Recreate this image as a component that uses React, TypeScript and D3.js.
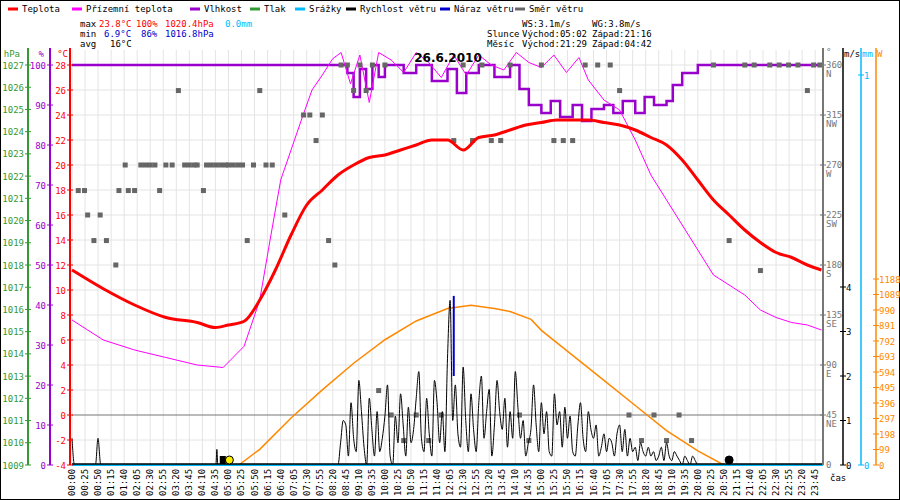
import { useEffect, useRef } from 'react';
import * as d3 from 'd3';

// hours of day for the smooth series
const tempTimes = [0, 1, 2, 3, 4, 4.58, 5, 5.5, 6, 6.5, 7, 7.5, 8, 8.5, 9, 9.5, 10, 10.5, 11, 11.5, 12, 12.5, 13, 13.5, 14, 14.5, 15, 15.5, 16, 16.5, 17, 17.5, 18, 18.5, 19, 19.5, 20, 20.5, 21, 21.5, 22, 22.5, 23, 23.5, 23.95];
const temperature = [11.6, 10.1, 8.8, 7.8, 7.4, 7.0, 7.2, 7.5, 9.2, 11.6, 14.4, 16.8, 18.0, 19.2, 20.0, 20.6, 20.8, 21.2, 21.6, 22.0, 22.0, 21.2, 22.2, 22.4, 22.8, 23.2, 23.4, 23.6, 23.6, 23.6, 23.4, 23.2, 22.8, 22.2, 21.6, 20.4, 18.8, 17.2, 16.0, 14.8, 13.8, 13.0, 12.6, 12.0, 11.6];

const feelTimes = [0, 1, 2, 3, 4, 4.83, 5.5, 6, 6.33, 6.67, 7, 7.33, 7.67, 8, 8.33, 8.6, 8.9, 9.2, 9.5, 9.8, 10.2, 10.6, 11, 11.4, 11.8, 12.2, 12.6, 13, 13.4, 13.8, 14.2, 14.6, 15, 15.4, 15.8, 16.2, 16.5, 17, 17.5, 18, 18.5, 19, 19.5, 20, 20.5, 21, 21.5, 22, 22.5, 23, 23.5, 23.95];
const feelsLike = [7.6, 6.0, 5.2, 4.6, 4.0, 3.8, 5.5, 9.2, 14, 18.8, 21.2, 23.6, 26, 27.2, 28.5, 29, 26.5, 28.8, 25, 29, 28.4, 27.4, 29, 28.2, 27, 28.8, 27.2, 28.8, 28, 27.6, 29, 28.2, 27.8, 28.8, 27.4, 28.6, 26.8, 25.2, 24.4, 22, 19.2, 17.2, 15.2, 13.2, 11.2, 10.4, 9.6, 8.4, 7.8, 7.4, 7.2, 6.8];

const humTimes = [0, 8.6, 8.8, 9.0, 9.2, 9.4, 9.6, 9.8, 10.0, 10.3, 10.6, 11, 11.5, 12, 12.3, 12.6, 13, 13.5, 14, 14.3, 14.6, 15, 15.3, 15.6, 16, 16.3, 16.6, 17, 17.3, 17.6, 18, 18.3, 18.6, 19, 19.2, 19.5, 20, 24];
const humidity = [100, 100, 98, 92, 99, 94, 100, 97, 100, 100, 98, 100, 96, 99, 93, 98, 100, 97, 100, 94, 90, 88, 91, 87, 90, 86, 89, 90, 88, 91, 88, 92, 90, 91, 95, 98, 100, 100];

const solarTimes = [0, 5.33, 6, 7, 8, 9, 10, 11, 12, 12.75, 13.5, 14, 14.67, 15, 16, 17, 18, 19, 20, 20.83, 24];
const solar = [0, 0, 100, 300, 480, 650, 800, 920, 1000, 1020, 1000, 980, 930, 860, 700, 540, 380, 220, 90, 0, 0];

// wind speed every 5 min from 08:30 to 20:20, m/s
const windStart = 8.5;
const windSpeed = [0, 0.5, 1.0, 0.9, 0.2, 1.4, 0.6, 0.3, 1.9, 1.2, 0.4, 0, 1.5, 0.8, 0.2, 1.2, 0.3, 0.6, 1.1, 1.8, 0.2, 0, 1.1, 0.5, 1.6, 0.9, 0.2, 1.3, 0.5, 0.8, 1.5, 2.1, 0.6, 0.3, 1.5, 0.7, 0.2, 1.9, 1.4, 0.5, 1.2, 0.3, 2.4, 3.7, 1.0, 1.8, 0.7, 0.4, 2.2, 1.0, 0.3, 1.6, 0.8, 0.3, 1.4, 2.0, 0.6, 1.2, 1.7, 0.2, 0.9, 1.9, 1.2, 0.8, 1.5, 0.4, 1.2, 0.6, 2.1, 1.3, 0.6, 1.0, 0.2, 0.5, 0.8, 1.8, 0.9, 0.3, 1.4, 0.7, 1.2, 0.3, 0.2, 1.6, 0.9, 1.2, 0.4, 1.3, 0.6, 1.1, 0.3, 0.2, 0.9, 1.4, 0.6, 0.3, 1.2, 0.8, 0.6, 0.9, 0.2, 0.4, 0.7, 0.3, 0.6, 0.5, 0.2, 0.7, 0.9, 0.3, 0.8, 0.2, 0.6, 0.3, 0.4, 0.1, 0.5, 0.3, 0.2, 0.4, 0.2, 0.3, 0.1, 0.2, 0.4, 0.1, 0.5, 0.2, 0.1, 0.3, 0.2, 0.1, 0, 0.2, 0.1, 0, 0.2, 0.1, 0];
const earlyWind = [[0, 0.6], [0.08, 0], [0.75, 0], [0.83, 0.6], [0.92, 0], [4.6, 0], [4.63, 0.35], [4.66, 0]];
const gustTime = 12.2;
const gustMax = 3.8;

// wind direction samples [hour, degrees]
const dirSamples = [[0.2, 247], [0.4, 247], [0.5, 225], [0.7, 202], [0.9, 225], [1.1, 202], [1.4, 180], [1.5, 247], [1.7, 270], [1.8, 247], [2.0, 247], [2.2, 270], [2.35, 270], [2.5, 270], [2.65, 270], [2.8, 247], [3.0, 270], [3.2, 270], [3.4, 337], [3.6, 270], [3.75, 270], [3.9, 270], [4.0, 270], [4.2, 247], [4.3, 270], [4.45, 270], [4.6, 270], [4.75, 270], [4.9, 270], [5.0, 270], [5.15, 270], [5.3, 270], [5.45, 270], [5.6, 202], [5.8, 270], [6.0, 337], [6.2, 270], [6.4, 270], [6.8, 225], [7.4, 315], [7.6, 315], [7.8, 292], [8.0, 315], [8.2, 202], [8.4, 180], [8.6, 360], [8.8, 360], [9.0, 337], [9.2, 360], [9.4, 337], [9.6, 360], [9.8, 67], [10.0, 360], [10.2, 45], [10.6, 22], [11.0, 45], [11.4, 22], [11.8, 45], [12.2, 292], [12.5, 360], [12.8, 292], [13.1, 360], [13.4, 292], [13.7, 292], [14.0, 360], [14.3, 45], [14.6, 22], [15.0, 360], [15.4, 292], [15.7, 292], [16.0, 292], [16.4, 360], [16.8, 360], [17.2, 360], [17.5, 337], [17.8, 45], [18.2, 22], [18.6, 45], [19.0, 22], [19.4, 45], [19.8, 22], [20.5, 360], [21.0, 202], [21.5, 360], [21.8, 360], [22.0, 175], [22.3, 360], [22.6, 360], [22.9, 360], [23.2, 360], [23.5, 337], [23.7, 360], [23.9, 360]];

const hpaTicks = d3.range(1009, 1028);
const humTicks = d3.range(0, 101, 10);
const tempTicks = d3.range(-4, 29, 2);
const dirTicks = [[45, 'NE'], [90, 'E'], [135, 'SE'], [180, 'S'], [225, 'SW'], [270, 'W'], [315, 'NW'], [360, 'N']];
const wsTicks = [0, 1, 2, 3, 4];
const wTicks = d3.range(0, 1189, 99);

const legend = [['Teplota', '#ff0000'], ['Přízemní teplota', '#ff00ff'], ['Vlhkost', '#9900cc'], ['Tlak', '#339933'], ['Srážky', '#00bbff'], ['Rychlost větru', '#000000'], ['Náraz větru', '#0000cc'], ['Směr větru', '#666666']];

export default function App() {
  const ref = useRef<SVGSVGElement>(null);

  useEffect(() => {
    const svg = d3.select(ref.current);
    svg.selectAll('*').remove();
    const W = 900, H = 500;
    const x0 = 72, x1 = 823, top = 65, bot = 465;
    const font = 'DejaVu Sans Mono, monospace';
    const fs = 9;

    const x = d3.scaleLinear().domain([0, 24]).range([x0, x1]);
    const yT = d3.scaleLinear().domain([-4, 28]).range([bot, top]);
    const yH = d3.scaleLinear().domain([0, 100]).range([bot, top]);
    const yP = d3.scaleLinear().domain([1009, 1027]).range([bot, top]);
    const yD = d3.scaleLinear().domain([0, 360]).range([bot, top]);
    const yS = d3.scaleLinear().domain([0, 4]).range([bot, 287]);
    const yW = d3.scaleLinear().domain([0, 1188]).range([bot, 279]);

    svg.append('rect').attr('x', 0.5).attr('y', 0.5).attr('width', W - 1).attr('height', H - 1)
      .attr('fill', '#fff').attr('stroke', '#000');

    // grid
    const grid = svg.append('g');
    d3.range(0, 1440, 25).forEach(m => {
      grid.append('line').attr('x1', x(m / 60)).attr('x2', x(m / 60)).attr('y1', 50).attr('y2', bot)
        .attr('stroke', '#e4e4e4');
    });
    tempTicks.forEach(t => {
      grid.append('line').attr('x1', x0).attr('x2', x1).attr('y1', yT(t)).attr('y2', yT(t))
        .attr('stroke', t === 0 ? '#777' : '#e4e4e4');
    });

    // solar
    svg.append('path').datum(solarTimes.map((t, i) => [t, solar[i]] as [number, number]))
      .attr('fill', 'none').attr('stroke', '#ff8800').attr('stroke-width', 1.5)
      .attr('d', d3.line<[number, number]>().x(d => x(d[0])).y(d => yW(d[1])));

    // humidity
    svg.append('path').datum(humTimes.map((t, i) => [t, humidity[i]] as [number, number]))
      .attr('fill', 'none').attr('stroke', '#9900cc').attr('stroke-width', 2.5)
      .attr('d', d3.line<[number, number]>().x(d => x(d[0])).y(d => yH(d[1])).curve(d3.curveStepAfter));

    // feels like
    svg.append('path').datum(feelTimes.map((t, i) => [t, feelsLike[i]] as [number, number]))
      .attr('fill', 'none').attr('stroke', '#ff00ff').attr('stroke-width', 1)
      .attr('d', d3.line<[number, number]>().x(d => x(d[0])).y(d => yT(d[1])));

    // wind direction
    svg.append('g').selectAll('rect').data(dirSamples).enter().append('rect')
      .attr('x', d => x(d[0]) - 2.5).attr('y', d => yD(d[1]) - 2.5).attr('width', 5).attr('height', 5)
      .attr('fill', '#666');

    // temperature
    svg.append('path').datum(tempTimes.map((t, i) => [t, temperature[i]] as [number, number]))
      .attr('fill', 'none').attr('stroke', '#ff0000').attr('stroke-width', 3)
      .attr('d', d3.line<[number, number]>().x(d => x(d[0])).y(d => yT(d[1])).curve(d3.curveMonotoneX));

    // wind speed
    const ws: [number, number][] = [...earlyWind.map(d => [d[0], d[1]] as [number, number]), [windStart - 0.1, 0],
      ...windSpeed.map((v, i) => [windStart + i / 12, v] as [number, number]), [24, 0]];
    svg.append('path').datum(ws).attr('fill', 'none').attr('stroke', '#000').attr('stroke-width', 1)
      .attr('d', d3.line<[number, number]>().x(d => x(d[0])).y(d => yS(d[1])).curve(d3.curveMonotoneX));
    svg.append('line').attr('x1', x(gustTime)).attr('x2', x(gustTime)).attr('y1', yS(gustMax)).attr('y2', yS(2))
      .attr('stroke', '#0000cc').attr('stroke-width', 2);
    svg.append('line').attr('x1', x0).attr('x2', x1).attr('y1', bot).attr('y2', bot).attr('stroke', '#00bbff').attr('stroke-width', 2);
    svg.append('line').attr('x1', x0).attr('x2', x1).attr('y1', bot - 1).attr('y2', bot - 1).attr('stroke', '#000').attr('stroke-width', 1.5);

    // sun / moon
    svg.append('circle').attr('cx', x(5.03)).attr('cy', bot - 5).attr('r', 4).attr('fill', '#ffee00').attr('stroke', '#000');
    svg.append('rect').attr('x', x(4.85) - 4).attr('y', bot - 9).attr('width', 6).attr('height', 8).attr('fill', '#000');
    svg.append('circle').attr('cx', x(21.0)).attr('cy', bot - 5).attr('r', 4).attr('fill', '#000').attr('stroke', '#000');

    // left axes
    const axisG = (xx: number, color: string, scale: d3.ScaleLinear<number, number>, ticks: number[]) => {
      const g = svg.append('g').attr('font-family', font).attr('font-size', fs).attr('fill', color);
      g.append('line').attr('x1', xx).attr('x2', xx).attr('y1', 48).attr('y2', bot).attr('stroke', color).attr('stroke-width', 2);
      ticks.forEach(t => {
        g.append('line').attr('x1', xx - 3).attr('x2', xx + 3).attr('y1', scale(t)).attr('y2', scale(t)).attr('stroke', color);
        g.append('text').attr('x', xx - 4).attr('y', scale(t) + 3.5).attr('text-anchor', 'end').text(String(t));
      });
      return g;
    };
    axisG(28, '#339933', yP, hpaTicks).append('text').attr('x', 20).attr('y', 57).attr('text-anchor', 'end').text('hPa');
    axisG(50, '#9900cc', yH, humTicks).append('text').attr('x', 44).attr('y', 57).attr('text-anchor', 'end').text('%');
    axisG(70, '#ff0000', yT, tempTicks).append('text').attr('x', 68).attr('y', 57).attr('text-anchor', 'end').text('°C');

    // right axes
    const rg = svg.append('g').attr('font-family', font).attr('font-size', fs);
    rg.append('line').attr('x1', x1).attr('x2', x1).attr('y1', 48).attr('y2', bot).attr('stroke', '#777').attr('stroke-width', 2);
    rg.append('text').attr('x', x1 + 3).attr('y', 55).attr('fill', '#777').text('°');
    dirTicks.forEach(([d, l]) => {
      const yy = yD(d as number);
      rg.append('line').attr('x1', x1 - 3).attr('x2', x1 + 3).attr('y1', yy).attr('y2', yy).attr('stroke', '#777');
      rg.append('text').attr('x', x1 + 3).attr('y', yy + 3).attr('fill', '#777').text(String(d));
      rg.append('text').attr('x', x1 + 3).attr('y', yy + 12).attr('fill', '#777').text(l as string);
    });
    rg.append('text').attr('x', x1 + 3).attr('y', bot + 3).attr('fill', '#777').text('0');
    rg.append('line').attr('x1', 843).attr('x2', 843).attr('y1', 48).attr('y2', bot).attr('stroke', '#000').attr('stroke-width', 1.5);
    rg.append('text').attr('x', 844).attr('y', 57).attr('fill', '#000').text('m/s');
    wsTicks.forEach(t => {
      rg.append('line').attr('x1', 840).attr('x2', 846).attr('y1', yS(t)).attr('y2', yS(t)).attr('stroke', '#000');
      rg.append('text').attr('x', 846).attr('y', yS(t) + 3.5).attr('fill', '#000').text(String(t));
    });
    rg.append('line').attr('x1', 861).attr('x2', 861).attr('y1', 48).attr('y2', bot).attr('stroke', '#00bbff').attr('stroke-width', 1.5);
    rg.append('text').attr('x', 862).attr('y', 57).attr('fill', '#00bbff').text('mm');
    [[0, bot], [1, top + 10]].forEach(([v, yy]) => {
      rg.append('line').attr('x1', 858).attr('x2', 864).attr('y1', yy).attr('y2', yy).attr('stroke', '#00bbff');
      rg.append('text').attr('x', 864).attr('y', yy + 3.5).attr('fill', '#00bbff').text(String(v));
    });
    rg.append('line').attr('x1', 876).attr('x2', 876).attr('y1', 48).attr('y2', bot).attr('stroke', '#ff8800').attr('stroke-width', 1.5);
    rg.append('text').attr('x', 877).attr('y', 57).attr('fill', '#ff8800').text('W');
    wTicks.forEach(t => {
      rg.append('line').attr('x1', 873).attr('x2', 879).attr('y1', yW(t)).attr('y2', yW(t)).attr('stroke', '#ff8800');
      rg.append('text').attr('x', 879).attr('y', yW(t) + 3.5).attr('fill', '#ff8800').text(String(t));
    });

    // time labels
    const tl = svg.append('g').attr('font-family', font).attr('font-size', fs).attr('fill', '#000');
    d3.range(0, 1440, 25).forEach(m => {
      const lab = `${String(Math.floor(m / 60)).padStart(2, '0')}:${String(m % 60).padStart(2, '0')}`;
      tl.append('text').attr('transform', `translate(${x(m / 60) + 3},${bot + 31}) rotate(-90)`).text(lab);
    });
    tl.append('text').attr('x', 830).attr('y', 481).text('čas');

    // title + legend
    svg.append('text').attr('x', 448).attr('y', 62).attr('text-anchor', 'middle').attr('font-family', 'DejaVu Sans, sans-serif')
      .attr('font-weight', 'bold').attr('font-size', 12).text('26.6.2010');
    const lg = svg.append('g').attr('font-family', font).attr('font-size', fs);
    const lxs = [8, 72, 190, 250, 295, 346, 440, 515];
    legend.forEach(([name, c], i) => {
      const lx = lxs[i];
      lg.append('line').attr('x1', lx).attr('x2', lx + 10).attr('y1', 9).attr('y2', 9).attr('stroke', c).attr('stroke-width', 3);
      lg.append('text').attr('x', lx + 14).attr('y', 12).text(name);
    });
    const info = svg.append('g').attr('font-family', font).attr('font-size', fs);
    const row = (y: number, parts: [number, string, string][]) => parts.forEach(([xx, s, c]) =>
      info.append('text').attr('x', xx).attr('y', y).attr('fill', c).text(s));
    row(27, [[80, 'max', '#000'], [99, '23.8°C', '#ff0000'], [136, '100%', '#ff0000'], [165, '1020.4hPa', '#ff0000'], [225, '0.0mm', '#00bbff']]);
    row(37, [[80, 'min', '#000'], [104, '6.9°C', '#0000cc'], [141, '86%', '#0000cc'], [165, '1016.8hPa', '#0000cc']]);
    row(47, [[80, 'avg', '#000'], [110, '16°C', '#000']]);
    row(27, [[522, 'WS:3.1m/s', '#000'], [592, 'WG:3.8m/s', '#000']]);
    row(37, [[487, 'Slunce', '#000'], [522, 'Východ:05:02', '#000'], [592, 'Západ:21:16', '#000']]);
    row(47, [[487, 'Měsíc', '#000'], [522, 'Východ:21:29', '#000'], [592, 'Západ:04:42', '#000']]);
  }, []);

  return <svg ref={ref} width={900} height={500} style={{ position: 'absolute', left: 0, top: 0 }} />;
}
